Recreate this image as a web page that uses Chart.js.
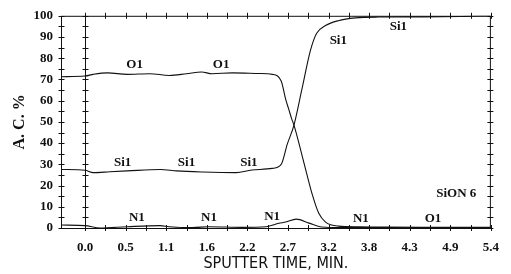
<!DOCTYPE html>
<html>
<head>
<meta charset="utf-8">
<script src="https://cdn.jsdelivr.net/npm/chart.js@4.4.0/dist/chart.umd.min.js"></script>
<style>
	body { margin: 0; background: #fff; }
	#chart { display: block; }
</style>
</head>
<body>
<canvas id="chart" width="511" height="274"></canvas>
<script>
const x_ticks = [0, 0.54, 1.08, 1.62, 2.16, 2.7, 3.24, 3.78, 4.32, 4.86, 5.4];
const x_tick_labels = ["0.0", "0.5", "1.1", "1.6", "2.2", "2.7", "3.2", "3.8", "4.3", "4.9", "5.4"];
const x_minor = [0, 0.27, 0.54, 0.81, 1.08, 1.35, 1.62, 1.89, 2.16, 2.43, 2.7, 2.97, 3.24, 3.51, 3.78, 4.05, 4.32, 4.59, 4.86, 5.13, 5.4];
const y_minor = [0, 5, 10, 15, 20, 25, 30, 35, 40, 45, 50, 55, 60, 65, 70, 75, 80, 85, 90, 95, 100];

// O1
const o1_time = [-0.32, 0, 0.11, 0.30, 0.56, 0.86, 1.12, 1.35, 1.55, 1.69, 1.96, 2.32, 2.49, 2.61, 2.67, 2.71, 2.75, 2.78, 2.85, 2.94, 3.02, 3.11, 3.20, 3.37, 3.64, 4.0, 4.5, 5.0, 5.4];
const o1_conc = [71.3, 71.6, 72.4, 73.1, 72.4, 72.7, 71.9, 72.7, 73.5, 72.7, 73.1, 72.8, 72.4, 69.3, 60.6, 56, 51.4, 48.5, 39.4, 26.9, 16.2, 6.9, 2.8, 0.9, 0.6, 0.4, 0.3, 0.3, 0.3];

// Si1
const si1_time = [-0.32, 0, 0.11, 0.33, 0.56, 1.0, 1.22, 1.56, 2.01, 2.22, 2.49, 2.61, 2.69, 2.78, 2.885, 3.0, 3.08, 3.2, 3.37, 3.6, 3.9, 4.5, 5.0, 5.3, 5.4];
const si1_conc = [27.6, 27.2, 26.1, 26.5, 26.9, 27.6, 26.9, 26.4, 26.1, 27.3, 28.1, 30, 39.4, 48.5, 65.3, 83.8, 91.7, 95.4, 97.7, 99, 99.4, 99.5, 99.7, 100, 100];

// N1
const n1_time = [-0.32, 0, 0.2, 0.56, 1.0, 1.12, 1.43, 1.65, 2.09, 2.41, 2.58, 2.67, 2.81, 2.98, 3.15, 3.4, 4.0, 4.6, 5.4];
const n1_conc = [1.4, 1.1, 0.0, 0.6, 1.1, 0.6, 0.2, 0.6, 0.3, 0.6, 2.2, 2.8, 4.2, 2.3, 0.5, 0.2, 0.2, 0.1, 0.1];

// curve labels
const note_text = ["O1", "O1", "Si1", "Si1", "Si1", "Si1", "Si1", "N1", "N1", "N1", "N1", "O1", "SiON 6"];
const note_time = [0.66, 1.81, 0.50, 1.35, 2.18, 3.37, 4.17, 0.69, 1.65, 2.49, 3.67, 4.63, 4.94];
const note_conc = [76.9, 76.9, 31, 31, 30.6, 88.4, 94.9, 5.1, 5.1, 5.5, 4.2, 4.2, 16.2];

const serif = "'Liberation Serif', 'DejaVu Serif', serif";

let to_points = (t, c) => t.map((v, i) => ({ x: v, y: c[i] }));

let line_set = (label, t, c) => ({
	label: label,
	data: to_points(t, c),
	borderColor: "#111",
	borderWidth: 1.1,
	pointRadius: 0,
	cubicInterpolationMode: "monotone",
	fill: false
});

const frame_plugin = {
	id: "frame",
	afterDatasetsDraw(chart) {
		const { ctx, chartArea: a, scales: { x, y } } = chart;
		ctx.save();
		ctx.strokeStyle = "#111";
		ctx.lineWidth = 1;
		ctx.strokeRect(a.left + 0.5, a.top + 0.5, a.right - a.left - 1, a.bottom - a.top);
		const x0 = Math.round(x.getPixelForValue(0)) + 0.5;
		ctx.beginPath();
		ctx.moveTo(x0, a.top);
		ctx.lineTo(x0, a.bottom);
		// crosses on the verticals
		y_minor.forEach((v) => {
			const py = Math.round(y.getPixelForValue(v)) + 0.5;
			[a.left + 0.5, x0, a.right - 0.5].forEach((px) => {
				ctx.moveTo(px - 3, py);
				ctx.lineTo(px + 3, py);
			});
		});
		// crosses on top and bottom
		x_minor.forEach((v) => {
			const px = Math.round(x.getPixelForValue(v)) + 0.5;
			[a.top, a.bottom].forEach((py) => {
				ctx.moveTo(px, py - 3);
				ctx.lineTo(px, py + 3);
			});
		});
		ctx.stroke();

		ctx.fillStyle = "#111";
		ctx.font = "bold 13px " + serif;
		ctx.textAlign = "center";
		ctx.textBaseline = "middle";
		note_text.forEach((t, i) => {
			ctx.fillText(t, x.getPixelForValue(note_time[i]), y.getPixelForValue(note_conc[i]));
		});
		ctx.restore();
	}
};

const config = {
	type: "line",
	data: {
		datasets: [
			line_set("O1", o1_time, o1_conc),
			line_set("Si1", si1_time, si1_conc),
			line_set("N1", n1_time, n1_conc)
		]
	},
	options: {
		responsive: false,
		animation: false,
		layout: { padding: { left: 0, right: 18, top: 12, bottom: 0 } },
		plugins: {
			legend: { display: false },
			tooltip: { enabled: false }
		},
		scales: {
			x: {
				type: "linear",
				min: -0.32,
				max: 5.4,
				grid: { display: false, drawTicks: false },
				border: { display: false },
				afterBuildTicks: (scale) => {
					scale.ticks = x_ticks.map((v) => ({ value: v }));
				},
				afterFit: (scale) => { scale.height = 46; },
				ticks: {
					autoSkip: false,
					maxRotation: 0,
					padding: 12,
					color: "#111",
					font: { family: serif, size: 13, weight: "bold" },
					callback: (val, i) => x_tick_labels[i]
				},
				title: {
					display: true,
					text: "SPUTTER TIME, MIN.",
					color: "#111",
					padding: { top: 0, bottom: 1 },
					font: { family: "'Liberation Sans Narrow', 'DejaVu Sans Condensed', sans-serif", size: 16 }
				}
			},
			y: {
				min: 0,
				max: 100,
				grid: { display: false, drawTicks: false },
				border: { display: false },
				afterFit: (scale) => { scale.width = 61; },
				ticks: {
					stepSize: 10,
					padding: 8,
					color: "#111",
					font: { family: serif, size: 13, weight: "bold" }
				},
				title: {
					display: true,
					text: "A. C. %",
					color: "#111",
					padding: { top: 10, bottom: 0 },
					font: { family: serif, size: 16, weight: "bold" }
				}
			}
		}
	},
	plugins: [frame_plugin]
};

new Chart(document.getElementById("chart"), config);
</script>
</body>
</html>
